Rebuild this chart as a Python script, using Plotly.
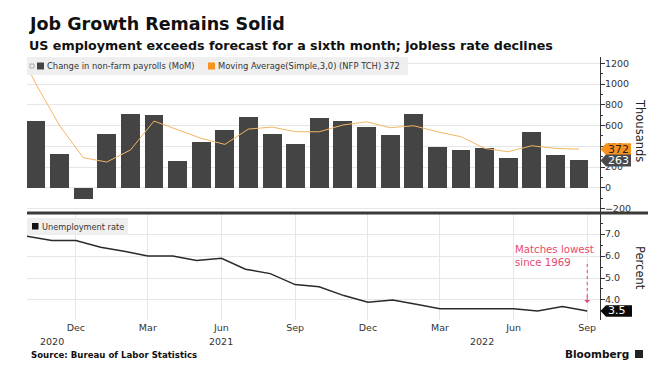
import plotly.graph_objects as go

# ---------------- data ----------------
ma_months = ["Sep 2020", "Oct 2020", "Nov 2020", "Dec 2020", "Jan 2021", "Feb 2021", "Mar 2021",
             "Apr 2021", "May 2021", "Jun 2021", "Jul 2021", "Aug 2021", "Sep 2021", "Oct 2021",
             "Nov 2021", "Dec 2021", "Jan 2022", "Feb 2022", "Mar 2022", "Apr 2022", "May 2022",
             "Jun 2022", "Jul 2022", "Aug 2022", "Sep 2022"]
payroll_months = ma_months[1:]
payrolls = [644, 328, -112, 518, 708, 701, 257, 444, 553, 685, 515, 421,
            672, 643, 582, 505, 710, 396, 364, 380, 290, 534, 315, 263]
moving_avg = [1450, 1000, 600, 290, 248, 364, 643, 556, 476, 418, 566, 585, 540,
              540, 605, 636, 579, 598, 540, 492, 380, 347, 405, 380, 372]

unemp_dates = ["2020-10-01", "2020-11-01", "2020-12-01", "2021-01-01", "2021-02-01", "2021-03-01",
               "2021-04-01", "2021-05-01", "2021-06-01", "2021-07-01", "2021-08-01", "2021-09-01",
               "2021-10-01", "2021-11-01", "2021-12-01", "2022-01-01", "2022-02-01", "2022-03-01",
               "2022-04-01", "2022-05-01", "2022-06-01", "2022-07-01", "2022-08-01", "2022-09-01"]
unemployment = [6.9, 6.7, 6.7, 6.4, 6.2, 6.0, 6.0, 5.8, 5.9, 5.4, 5.2, 4.7,
                4.6, 4.2, 3.9, 4.0, 3.8, 3.6, 3.6, 3.6, 3.6, 3.5, 3.7, 3.5]

tick_dates = ["2020-12-01", "2021-03-01", "2021-06-01", "2021-09-01",
              "2021-12-01", "2022-03-01", "2022-06-01", "2022-09-01"]
tick_labels = ["Dec", "Mar", "Jun", "Sep", "Dec", "Mar", "Jun", "Sep"]
year_labels = ["2020", "2021", "2022"]
year_label_dates = ["2020-11-01", "2021-06-01", "2022-04-22"]

payroll_ticks = [-200, 0, 200, 400, 600, 800, 1000, 1200]
rate_ticks = [4.0, 5.0, 6.0, 7.0]

# ---------------- styling ----------------
W, H = 660, 383
ML, MR, MT, MB = 27, 60, 57, 63
PW, PH = W - ML - MR, H - MT - MB
FONT = "DejaVu Sans"
DARK = "#444444"
ORANGE = "#f7931e"
PINK = "#e8496f"


def px(x):
    return (x - ML) / PW


def py(y):
    return (H - MB - y) / PH


top_dom = [py(212), 1.0]
bot_dom = [0.0, py(214)]

fig = go.Figure()

fig.add_trace(go.Bar(x=payroll_months, y=payrolls, marker=dict(color=DARK, line=dict(width=0)),
                     width=0.8, xaxis="x3", yaxis="y2", hoverinfo="x+y"))
fig.add_trace(go.Scatter(x=ma_months, y=moving_avg, mode="lines",
                         line=dict(color="#f3b565", width=1), xaxis="x3", yaxis="y2"))
fig.add_trace(go.Scatter(x=unemp_dates, y=unemployment, mode="lines",
                         line=dict(color="#2a2a2a", width=1.5), xaxis="x", yaxis="y"))

grid = "#e6e6e6"
fig.update_layout(
    width=W, height=H, margin=dict(l=ML, r=MR, t=MT, b=MB, autoexpand=False),
    paper_bgcolor="white", plot_bgcolor="white", showlegend=False,
    font=dict(family=FONT, size=10, color="#333"),
    bargap=0,
    xaxis=dict(type="date", domain=[0, 1], anchor="y", range=["2020-10-01", "2022-09-17"],
               tickvals=tick_dates, ticktext=tick_labels, ticks="", showgrid=True, gridcolor=grid,
               gridwidth=1, zeroline=False, showline=False, tickfont=dict(size=9.5, color="#333")),
    xaxis2=dict(type="date", domain=[0, 1], anchor="y2", matches="x", range=["2020-10-01", "2022-09-17"],
                tickvals=tick_dates, showticklabels=False, ticks="", showgrid=True, gridcolor=grid,
                zeroline=False, showline=False),
    xaxis3=dict(type="category", overlaying="x2", anchor="y2", categoryorder="array",
                categoryarray=ma_months, range=[0.62, 24.89], visible=False),
    yaxis=dict(domain=bot_dom, anchor="x", side="right", range=[3.09, 7.91], tickvals=rate_ticks,
               ticktext=["4.0", "5.0", "6.0", "7.0"], ticks="outside", ticklen=4, tickcolor="#333",
               showline=True, linecolor="#333", linewidth=1, showgrid=True, gridcolor=grid,
               zeroline=False, tickfont=dict(size=9.5, color="#333"), ticklabelstandoff=-2,
               minor=dict(tickvals=[3.5, 4.5, 5.5, 6.5, 7.5], ticks="outside", ticklen=2, tickcolor="#333")),
    yaxis2=dict(domain=top_dom, anchor="x2", side="right", range=[-234, 1261], tickvals=payroll_ticks,
                ticks="outside", ticklen=4, tickcolor="#333", showline=True, linecolor="#333",
                linewidth=1, showgrid=True, gridcolor=grid, zeroline=False,
                tickfont=dict(size=9.5, color="#333"), ticklabelstandoff=-2,
                minor=dict(dtick=100, ticks="outside", ticklen=2, tickcolor="#333")),
)

shapes = []
annos = []

# separator
shapes.append(dict(type="line", xref="paper", yref="paper", x0=px(27), x1=px(648), y0=py(213), y1=py(213),
                   line=dict(color="#3a3a3a", width=3), layer="above"))

# top legend box
shapes.append(dict(type="rect", xref="paper", yref="paper", x0=px(27), x1=px(408), y0=py(75), y1=py(57),
                   fillcolor="rgba(238,238,238,0.92)", line=dict(width=0), layer="above"))
shapes.append(dict(type="rect", xref="paper", yref="paper", x0=px(30), x1=px(34), y0=py(68), y1=py(64),
                   fillcolor="rgba(0,0,0,0)", line=dict(color="#aaaaaa", width=1), layer="above"))
shapes.append(dict(type="rect", xref="paper", yref="paper", x0=px(37), x1=px(44), y0=py(69.5), y1=py(62.5),
                   fillcolor=DARK, line=dict(width=0), layer="above"))
shapes.append(dict(type="rect", xref="paper", yref="paper", x0=px(208), x1=px(215), y0=py(69.5), y1=py(62.5),
                   fillcolor=ORANGE, line=dict(width=0), layer="above"))
annos.append(dict(xref="paper", yref="paper", x=px(45), y=py(66), xanchor="left", yanchor="middle",
                  text="Change in non-farm payrolls (MoM)", showarrow=False,
                  font=dict(size=8.4, color="#333")))
annos.append(dict(xref="paper", yref="paper", x=px(216), y=py(66), xanchor="left", yanchor="middle",
                  text="Moving Average(Simple,3,0) (NFP TCH) 372", showarrow=False,
                  font=dict(size=8.4, color="#333")))

# bottom legend box
shapes.append(dict(type="rect", xref="paper", yref="paper", x0=px(27), x1=px(128), y0=py(235), y1=py(218),
                   fillcolor="rgba(238,238,238,0.92)", line=dict(width=0), layer="above"))
shapes.append(dict(type="rect", xref="paper", yref="paper", x0=px(32), x1=px(38.5), y0=py(229.5), y1=py(223),
                   fillcolor="#111", line=dict(width=0), layer="above"))
annos.append(dict(xref="paper", yref="paper", x=px(40), y=py(226.5), xanchor="left", yanchor="middle",
                  text="Unemployment rate", showarrow=False, font=dict(size=8.2, color="#333")))


# value tags
def tag(yval, half, yref, color, txtcolor, text, x_right=631):
    x0, x1, xb = px(600.5), px(x_right), px(606)
    shapes.append(dict(type="path", xref="paper", yref=yref,
                       path=f"M {x0},{yval} L {xb},{yval + half} L {x1},{yval + half} "
                            f"L {x1},{yval - half} L {xb},{yval - half} Z",
                       fillcolor=color, line=dict(width=0), layer="above"))
    annos.append(dict(xref="paper", yref=yref, x=px(606), y=yval, xanchor="left", yanchor="middle",
                      text=text, showarrow=False, font=dict(size=11, color=txtcolor)))


tag(moving_avg[-1], 57, "y2", ORANGE, "#222", str(moving_avg[-1]))
tag(payrolls[-1], 57, "y2", "#4a4a4a", "white", str(payrolls[-1]))
tag(unemployment[-1], 0.26, "y", "#0a0a0a", "white", f"{unemployment[-1]:.1f}", x_right=632)

# axis titles
annos.append(dict(xref="paper", yref="paper", x=px(640), y=py(130), text="Thousands", textangle=90,
                  showarrow=False, font=dict(size=11.5, color="#222"), xanchor="center", yanchor="middle"))
annos.append(dict(xref="paper", yref="paper", x=px(640), y=py(268), text="Percent", textangle=90,
                  showarrow=False, font=dict(size=11.5, color="#222"), xanchor="center", yanchor="middle"))

# callout
annos.append(dict(xref="paper", yref="paper", x=px(513), y=py(256), xanchor="left", yanchor="middle",
                  text="Matches lowest<br>since 1969", align="left", showarrow=False,
                  font=dict(size=10.2, color=PINK)))
shapes.append(dict(type="line", xref="x", yref="paper", x0=unemp_dates[-1], x1=unemp_dates[-1],
                   y0=py(264), y1=py(300), line=dict(color=PINK, width=1, dash="dot"), layer="above"))
annos.append(dict(xref="x", yref="paper", x=unemp_dates[-1], y=py(303), ax=0, ay=-8,
                  axref="pixel", ayref="pixel", showarrow=True, arrowhead=1, arrowsize=1, arrowwidth=1,
                  arrowcolor=PINK, text=""))

# year labels
for lab, d in zip(year_labels, year_label_dates):
    annos.append(dict(xref="x", yref="paper", x=d, y=py(341), xanchor="center", yanchor="middle",
                      text=lab, showarrow=False, font=dict(size=9.5, color="#333")))

# titles / footer
annos.append(dict(xref="paper", yref="paper", x=px(27), y=py(24), xanchor="left", yanchor="middle",
                  text="<b>Job Growth Remains Solid</b>", showarrow=False, font=dict(size=17.5, color="#111")))
annos.append(dict(xref="paper", yref="paper", x=px(27), y=py(45), xanchor="left", yanchor="middle",
                  text="<b>US employment exceeds forecast for a sixth month; jobless rate declines</b>",
                  showarrow=False, font=dict(size=12.7, color="#111")))
annos.append(dict(xref="paper", yref="paper", x=px(29), y=py(355), xanchor="left", yanchor="middle",
                  text="<b>Source: Bureau of Labor Statistics</b>", showarrow=False,
                  font=dict(size=8.6, color="#111")))
annos.append(dict(xref="paper", yref="paper", x=px(631), y=py(354), xanchor="right", yanchor="middle",
                  text="<b>Bloomberg</b>", showarrow=False, font=dict(size=10.5, color="#111")))
shapes.append(dict(type="rect", xref="paper", yref="paper", x0=px(635), x1=px(643), y0=py(358), y1=py(350),
                   fillcolor="#222", line=dict(width=0), layer="above"))

fig.update_layout(shapes=shapes, annotations=annos)
fig.write_html("out.html", config={"displayModeBar": False},
               post_script="document.body.style.margin='0px';")
